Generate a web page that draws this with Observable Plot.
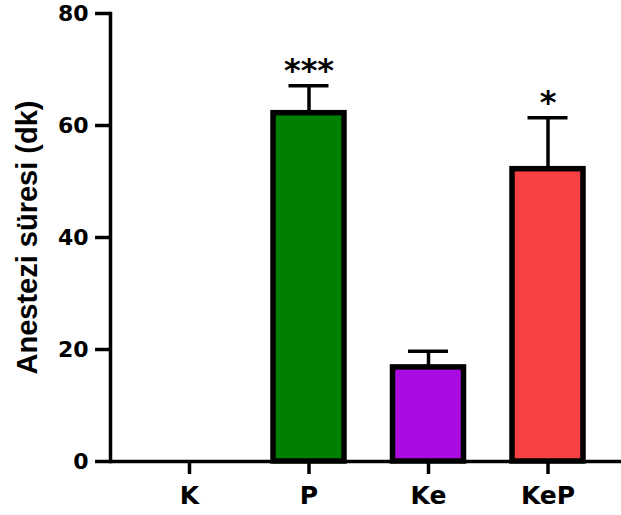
<!DOCTYPE html>
<html>
<head>
<meta charset="utf-8">
<script src="https://cdn.jsdelivr.net/npm/d3@7"></script>
<script src="https://cdn.jsdelivr.net/npm/@observablehq/plot@0.6"></script>
<style>
  html, body { margin: 0; padding: 0; background: #fff; }
</style>
</head>
<body>
<div id="chart"></div>
<script>
const groups = ["K", "P", "Ke", "KeP"];
const means = [0, 62.2, 16.8, 52.2];
const sems = [0, 4.9, 2.9, 9.2];
const stars = ["", "***", "", "*"];
const colors = ["#ffffff", "#008000", "#a90be0", "#f94144"];
const yTicks = [0, 20, 40, 60, 80];
const yTitle = "Anestezi süresi (dk)";

const data = groups.map((g, i) => ({
  group: g, mean: means[i], sem: sems[i], upper: means[i] + sems[i], star: stars[i], color: colors[i]
}));
const shown = data.filter(d => d.mean > 0);

const chart = Plot.plot({
  width: 621,
  height: 515,
  marginTop: 13,
  marginBottom: 54,
  marginLeft: 110,
  marginRight: 0,
  style: { fontFamily: "'DejaVu Sans', sans-serif", fontWeight: "bold", color: "#000", background: "#fff" },
  x: { domain: groups, range: [110, 626.5], paddingInner: 0.406, paddingOuter: 0.364, round: false, label: null },
  y: { domain: [0, 80], label: null },
  marks: [
    Plot.axisY({ ticks: yTicks, tickSize: 15, tickPadding: 7, strokeWidth: 3.5, fontSize: 22, fontWeight: "bold", label: null }),
    Plot.axisX({ tickSize: 13, tickPadding: 12, strokeWidth: 3.5, fontSize: 25, fontWeight: "bold", label: null }),
    Plot.frame({ anchor: "left", strokeWidth: 3.5 }),
    Plot.ruleX(shown, { x: "group", y1: "mean", y2: "upper", strokeWidth: 3.5 }),
    Plot.tickY(shown, { x: "group", y: "upper", strokeWidth: 3.5, insetLeft: 15.5, insetRight: 15.5 }),
    Plot.barY(shown, { x: "group", y: "mean", fill: "color", stroke: "#000", strokeWidth: 5.5 }),
    Plot.ruleY([0], { strokeWidth: 3.5 }),
    Plot.text(shown.filter(d => d.star), { x: "group", y: "upper", text: "star", fontSize: 32, fontWeight: "bold", lineAnchor: "bottom", dy: -5, fill: "#000" }),
    Plot.text([yTitle], { text: d => d, frameAnchor: "left", rotate: -90, dx: -83, fontSize: 29, fontWeight: "bold", fontFamily: "'Liberation Sans', Arial, sans-serif", lineAnchor: "middle", textAnchor: "middle", fill: "#000" })
  ]
});
document.getElementById("chart").appendChild(chart);
</script>
</body>
</html>
